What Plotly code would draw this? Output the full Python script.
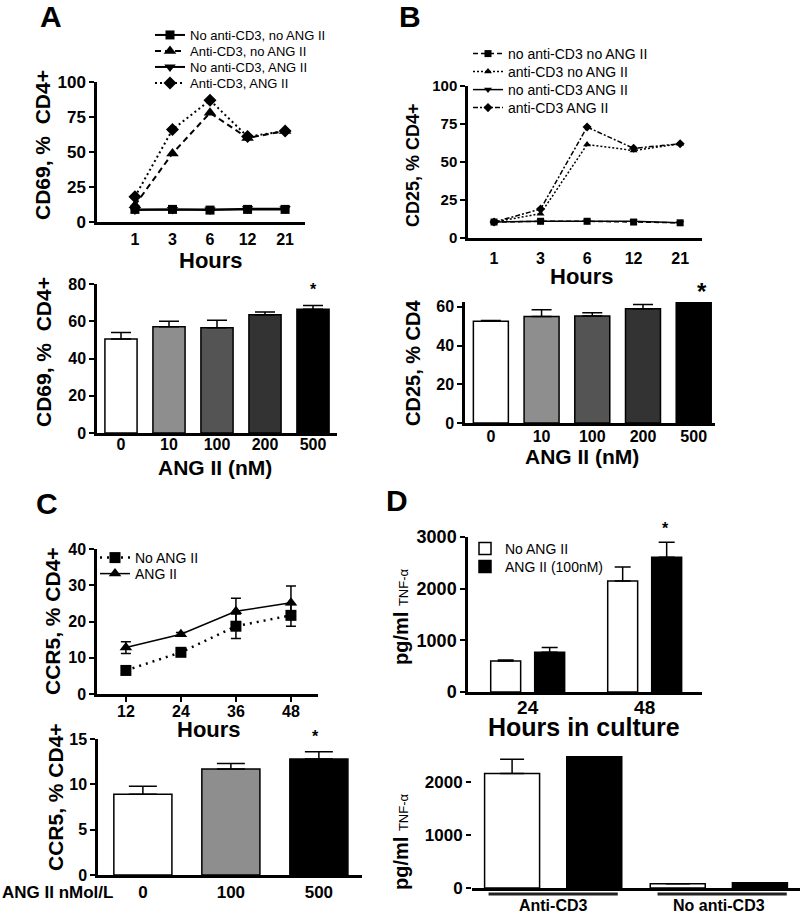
import plotly.graph_objects as go

W, H = 800, 915
FONT = "Liberation Sans, Arial, Helvetica, sans-serif"

# ---------------- data ----------------
# Panel A: CD69 time course
a_hours = ["1", "3", "6", "12", "21"]
a_noCD3_noANG = [9, 9, 8.5, 9, 9]
a_CD3_noANG = [12, 49, 78, 60, 65]
a_noCD3_ANG = [8.5, 9, 8.5, 9.5, 9.5]
a_CD3_ANG = [18, 66, 87, 61, 65]
a_names = ["No anti-CD3, no ANG II", "Anti-CD3, no ANG II",
           "No anti-CD3, ANG II", "Anti-CD3, ANG II"]

# Panel A: CD69 dose response
dose5 = ["0", "10", "100", "200", "500"]
a_dose_mean = [50.5, 57, 56.5, 63.5, 66.5]
a_dose_sem = [3.5, 3, 4, 1.5, 2]
dose5_colors = ["#ffffff", "#8e8e8e", "#545454", "#333333", "#000000"]

# Panel B: CD25 time course
b_hours = ["1", "3", "6", "12", "21"]
b_noCD3_noANG = [10.5, 11, 11, 10.5, 10]
b_CD3_noANG = [10.5, 16, 61.5, 57.5, 62]
b_noCD3_ANG = [10.5, 11, 11, 11, 10]
b_CD3_ANG = [10.5, 19, 73, 59, 62]
b_names = ["no anti-CD3 no ANG II", "anti-CD3 no ANG II",
           "no anti-CD3 ANG II", "anti-CD3 ANG II"]

# Panel B: CD25 dose response
b_dose_mean = [52.5, 55, 55.3, 59, 68]
b_dose_sem = [0.5, 3.5, 1.7, 2.2, 2]

# Panel C: CCR5 time course
c_hours = [12, 24, 36, 48]
c_noANG = [6.5, 11.5, 18.7, 21.7]
c_noANG_sem = [1.0, 0.5, 3.4, 3.0]
c_ANG = [12.8, 16.5, 22.8, 25.2]
c_ANG_sem = [1.6, 0.5, 3.6, 4.6]
c_names = ["No ANG II", "ANG II"]

# Panel C: CCR5 dose response
dose3 = ["0", "100", "500"]
c_dose_mean = [8.9, 11.7, 12.8]
c_dose_sem = [0.9, 0.6, 0.8]
dose3_colors = ["#ffffff", "#8e8e8e", "#000000"]

# Panel D: TNF-alpha
d_hours = ["24", "48"]
d_noANG = [600, 2150]
d_noANG_sem = [20, 270]
d_ANG = [770, 2610]
d_ANG_sem = [90, 290]
d_names = ["No ANG II", "ANG II (100nM)"]

d_groups = ["Anti-CD3", "No anti-CD3"]
d2_noANG = [2150, 80]
d2_noANG_sem = [270, 0]
d2_ANG = [2610, 100]
d2_ANG_sem = [290, 0]

# ---------------- helpers ----------------
def dx(x0, x1):
    return [x0 / W, x1 / W]

def dy(y0, y1):
    return [1 - y1 / H, 1 - y0 / H]

def px(x):
    return x / W

def py(y):
    return 1 - y / H

def tfont(size):
    return dict(family=FONT, size=size, color="black", weight="bold")

def axis(**kw):
    base = dict(showline=True, linecolor="black", linewidth=2.5, showgrid=False,
                zeroline=False, ticks="outside", ticklen=5, tickwidth=2,
                tickcolor="black", mirror=False, fixedrange=True, automargin=False)
    base.update(kw)
    return base

legends = {}
legend_counter = [0]

def new_legend(x_text, y_center, size):
    """one legend box per entry so the entries can sit at the reference spacing"""
    legend_counter[0] += 1
    key = "legend" if legend_counter[0] == 1 else "legend%d" % legend_counter[0]
    legends[key] = dict(x=px(x_text - 40), y=py(y_center), xanchor="left",
                        yanchor="middle", bgcolor="rgba(0,0,0,0)", borderwidth=0,
                        itemwidth=30, itemclick=False, itemdoubleclick=False,
                        font=dict(family=FONT, size=size, color="black"))
    return key

fig = go.Figure()

# ---------------- Panel A top ----------------
a_styles = [("square", "solid", 9), ("triangle-up", "6px,4px", 11),
            ("triangle-down", "solid", 10), ("diamond", "2px,3px", 10)]
a_leg_y = [35, 51, 67, 83]
for vals, name, (sym, dash, ms), ly in zip(
        [a_noCD3_noANG, a_CD3_noANG, a_noCD3_ANG, a_CD3_ANG], a_names, a_styles, a_leg_y):
    fig.add_trace(go.Scatter(
        x=a_hours, y=vals, name=name, mode="lines+markers",
        line=dict(color="black", width=2, dash=dash),
        marker=dict(symbol=sym, size=ms, color="black"),
        xaxis="x", yaxis="y", legend=new_legend(190, ly, 13)))

# ---------------- Panel A bottom ----------------
fig.add_trace(go.Bar(
    x=dose5, y=a_dose_mean, width=0.67,
    marker=dict(color=dose5_colors, line=dict(color="black", width=1.5)),
    error_y=dict(type="data", symmetric=False, array=a_dose_sem,
                 arrayminus=[0] * 5, color="black", thickness=1.5, width=10),
    showlegend=False, xaxis="x2", yaxis="y2"))

# ---------------- Panel B top ----------------
b_styles = [("square", "5px,3px", 7), ("triangle-up", "2px,2px", 7),
            ("triangle-down", "solid", 7), ("diamond", "5px,2px,2px,2px", 7)]
b_leg_y = [54, 72, 90, 108]
for vals, name, (sym, dash, ms), ly in zip(
        [b_noCD3_noANG, b_CD3_noANG, b_noCD3_ANG, b_CD3_ANG], b_names, b_styles, b_leg_y):
    fig.add_trace(go.Scatter(
        x=b_hours, y=vals, name=name, mode="lines+markers",
        line=dict(color="black", width=1.5, dash=dash),
        marker=dict(symbol=sym, size=ms, color="black"),
        xaxis="x3", yaxis="y3", legend=new_legend(508, ly, 14)))

# ---------------- Panel B bottom ----------------
fig.add_trace(go.Bar(
    x=dose5, y=b_dose_mean, width=0.69,
    marker=dict(color=dose5_colors, line=dict(color="black", width=1.5)),
    error_y=dict(type="data", symmetric=False, array=b_dose_sem,
                 arrayminus=[0] * 5, color="black", thickness=1.5, width=10),
    showlegend=False, xaxis="x4", yaxis="y4"))

# ---------------- Panel C top ----------------
fig.add_trace(go.Scatter(
    x=c_hours, y=c_noANG, name=c_names[0], mode="lines+markers",
    line=dict(color="black", width=2.5, dash="2px,5px"),
    marker=dict(symbol="square", size=11, color="black"),
    error_y=dict(type="data", array=c_noANG_sem, color="black", thickness=1.5, width=5),
    xaxis="x5", yaxis="y5", legend=new_legend(135, 558, 14)))
fig.add_trace(go.Scatter(
    x=c_hours, y=c_ANG, name=c_names[1], mode="lines+markers",
    line=dict(color="black", width=1.5),
    marker=dict(symbol="triangle-up", size=11, color="black"),
    error_y=dict(type="data", array=c_ANG_sem, color="black", thickness=1.5, width=5),
    xaxis="x5", yaxis="y5", legend=new_legend(135, 574, 14)))

# ---------------- Panel C bottom ----------------
fig.add_trace(go.Bar(
    x=dose3, y=c_dose_mean, width=0.66,
    marker=dict(color=dose3_colors, line=dict(color="black", width=1.5)),
    error_y=dict(type="data", symmetric=False, array=c_dose_sem,
                 arrayminus=[0] * 3, color="black", thickness=1.5, width=14),
    showlegend=False, xaxis="x6", yaxis="y6"))

# ---------------- Panel D top ----------------
fig.add_trace(go.Bar(
    x=d_hours, y=d_noANG, name=d_names[0], width=0.256, offset=-0.316,
    marker=dict(color="white", line=dict(color="black", width=1.5)),
    error_y=dict(type="data", symmetric=False, array=d_noANG_sem,
                 arrayminus=[0, 0], color="black", thickness=1.5, width=8),
    xaxis="x7", yaxis="y7", legend=new_legend(505, 549, 14)))
fig.add_trace(go.Bar(
    x=d_hours, y=d_ANG, name=d_names[1], width=0.256, offset=0.06,
    marker=dict(color="black", line=dict(color="black", width=1.5)),
    error_y=dict(type="data", symmetric=False, array=d_ANG_sem,
                 arrayminus=[0, 0], color="black", thickness=1.5, width=8),
    xaxis="x7", yaxis="y7", legend=new_legend(505, 567, 14)))

# ---------------- Panel D bottom ----------------
fig.add_trace(go.Bar(
    x=d_groups, y=d2_noANG, width=0.332, offset=-0.414,
    marker=dict(color="white", line=dict(color="black", width=1.5)),
    error_y=dict(type="data", symmetric=False, array=d2_noANG_sem,
                 arrayminus=[0, 0], color="black", thickness=1.5, width=12),
    showlegend=False, xaxis="x8", yaxis="y8"))
fig.add_trace(go.Bar(
    x=d_groups, y=d2_ANG, width=0.332, offset=0.082,
    marker=dict(color="black", line=dict(color="black", width=1.5)),
    error_y=dict(type="data", symmetric=False, array=d2_ANG_sem,
                 arrayminus=[0, 0], color="black", thickness=1.5, width=12),
    showlegend=False, xaxis="x8", yaxis="y8"))

# ---------------- axes ----------------
layout_axes = dict(
    # A top
    xaxis=axis(domain=dx(97, 305), anchor="y", type="category", range=[-1.01, 4.53],
               ticks="", tickfont=tfont(16), ticklabelstandoff=1),
    yaxis=axis(domain=dy(82, 222), anchor="x", range=[0, 100],
               tickvals=[0, 25, 50, 75, 100], tickfont=tfont(17)),
    # A bottom
    xaxis2=axis(domain=dx(97, 337), anchor="y2", type="category", range=[-0.5, 4.5],
                ticks="", tickfont=tfont(16), ticklabelstandoff=-5),
    yaxis2=axis(domain=dy(284, 433), anchor="x2", range=[0, 80],
                tickvals=[0, 20, 40, 60, 80], tickfont=tfont(16)),
    # B top
    xaxis3=axis(domain=dx(468, 702), anchor="y3", type="category", range=[-0.56, 4.47],
                ticks="", tickfont=tfont(16), ticklabelstandoff=4),
    yaxis3=axis(domain=dy(86, 238), anchor="x3", range=[0, 100],
                tickvals=[0, 25, 50, 75, 100], tickfont=tfont(15)),
    # B bottom
    xaxis4=axis(domain=dx(465, 715), anchor="y4", type="category", range=[-0.51, 4.42],
                ticks="", tickfont=tfont(16), ticklabelstandoff=-3),
    yaxis4=axis(domain=dy(302, 423), anchor="x4", range=[0, 62.5],
                tickvals=[0, 20, 40, 60], tickfont=tfont(16)),
    # C top
    xaxis5=axis(domain=dx(97, 318), anchor="y5", range=[5.7, 53.9],
                tickvals=[12, 24, 36, 48], tickfont=tfont(16), ticklabelstandoff=-4),
    yaxis5=axis(domain=dy(549, 694), anchor="x5", range=[0, 40],
                tickvals=[0, 10, 20, 30, 40], tickfont=tfont(16)),
    # C bottom
    xaxis6=axis(domain=dx(98, 362), anchor="y6", type="category", range=[-0.51, 2.49],
                ticks="", tickfont=tfont(17), ticklabelstandoff=0),
    yaxis6=axis(domain=dy(739, 875), anchor="x6", range=[0, 15],
                tickvals=[0, 5, 10, 15], tickfont=tfont(16)),
    # D top
    xaxis7=axis(domain=dx(468, 702), anchor="y7", type="category", range=[-0.51, 1.49],
                ticks="", tickfont=tfont(19), ticklabelstandoff=-4),
    yaxis7=axis(domain=dy(537, 692), anchor="x7", range=[0, 3000],
                tickvals=[0, 1000, 2000, 3000], tickfont=tfont(18)),
    # D bottom
    xaxis8=axis(domain=dx(472, 800), anchor="y8", type="category", range=[-0.49, 1.49],
                ticks="", tickfont=tfont(16), ticklabelstandoff=1),
    yaxis8=axis(domain=dy(756, 888), anchor="x8", range=[0, 2480], showline=False,
                tickvals=[0, 1000, 2000], tickfont=tfont(17)),
)

# ---------------- annotations ----------------
ann = []

def note(text, x, y, size, angle=0, bold=True, xanchor="center", color="black"):
    ann.append(dict(text=("<b>%s</b>" % text) if bold else text,
                    x=px(x), y=py(y), xref="paper", yref="paper",
                    xanchor=xanchor, yanchor="middle", textangle=angle,
                    showarrow=False, font=dict(family=FONT, size=size, color=color)))

# panel letters
note("A", 51, 16, 30)
note("B", 410, 16, 30)
note("C", 47, 503, 30)
note("D", 397, 500, 30)

# y titles
note("CD69, %  CD4+", 43, 145, 21, -90)
note("CD69, %  CD4+", 43, 352, 21, -90)
note("CD25, % CD4+", 413, 165, 18, -90)
note("CD25, % CD4", 413, 363, 20, -90)
note("CCR5, % CD4+", 52, 621, 21, -90)
note("CCR5, % CD4+", 55, 797, 21, -90)
tnf = "<b>pg/ml</b> <span style='font-size:13px;font-weight:normal'>TNF-α</span>"
note(tnf, 401, 617, 20, -90, bold=False)
note(tnf, 401, 842, 20, -90, bold=False)

# x titles
note("Hours", 211, 260, 22)
note("ANG II (nM)", 215, 468, 21)
note("Hours", 582, 277, 22)
note("ANG II (nM)", 582, 457, 21)
note("Hours", 209, 729, 22)
note("ANG II nMol/L", 0, 892, 17, xanchor="left")
note("Hours in culture", 584, 727, 25)

# significance asterisks (anchored to category index on the data axes)
def star(xref, yref, xi, y, size=16, shift=5, xshift=0):
    ann.append(dict(text="<b>*</b>", x=xi, y=y, xref=xref, yref=yref,
                    yanchor="bottom", yshift=shift, xshift=xshift, showarrow=False,
                    font=dict(family=FONT, size=size, color="black")))

star("x2", "y2", len(dose5) - 1, a_dose_mean[4] + a_dose_sem[4])
ann.append(dict(text="<b>*</b>", x=len(dose5) - 1, y=py(291), xref="x4", yref="paper",
                xshift=8, yanchor="middle", showarrow=False,
                font=dict(family=FONT, size=24, color="black")))
star("x6", "y6", len(dose3) - 1, c_dose_mean[2] + c_dose_sem[2], xshift=-3)
star("x7", "y7", 1, d_ANG[1] + d_ANG_sem[1], shift=3, xshift=21)

# ---------------- group underlines (panel D bottom) ----------------
shapes = [
    dict(type="line", xref="x8", yref="paper", x0=-0.39, x1=0.39, y0=py(894), y1=py(894),
         line=dict(color="#222222", width=3)),
    dict(type="line", xref="x8", yref="paper", x0=0.63, x1=1.41, y0=py(894), y1=py(894),
         line=dict(color="#222222", width=3)),
]

fig.update_layout(
    width=W, height=H,
    margin=dict(l=0, r=0, t=0, b=0, autoexpand=False),
    paper_bgcolor="white", plot_bgcolor="white",
    font=dict(family=FONT, color="black"),
    barmode="overlay",
    showlegend=True,
    annotations=ann,
    shapes=shapes,
    **legends,
    **layout_axes,
)

fig.write_html("out.html", config={"displayModeBar": False},
               post_script="document.body.style.margin='0px';")
